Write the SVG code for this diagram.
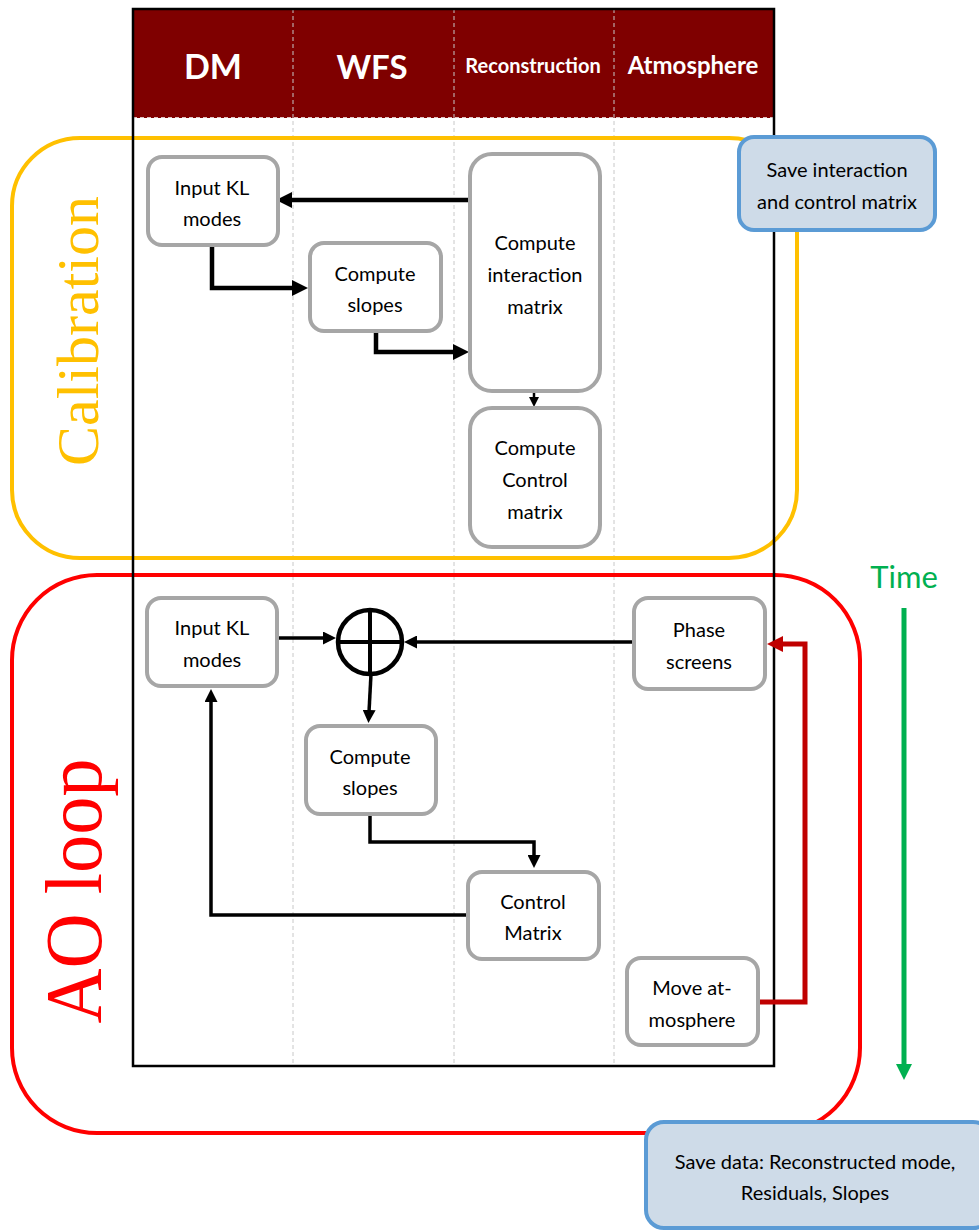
<svg xmlns="http://www.w3.org/2000/svg" width="979" height="1231" viewBox="0 0 979 1231">
<style>
.hdr{font-family:Lato,"Liberation Sans",sans-serif;font-weight:bold;fill:#ffffff;text-anchor:middle}
.div{stroke:#c8c8c8;stroke-width:1;stroke-dasharray:4 3;fill:none}
.node rect{fill:#ffffff;stroke:#a6a6a6;stroke-width:4}
.save rect{fill:#cedbe8;stroke:#5b9bd5;stroke-width:4}
.lbl{font-family:Lato,"Liberation Sans",sans-serif;font-size:20px;fill:#000000;text-anchor:middle}
.conn{fill:none;stroke:#000000}
.big{font-family:"Liberation Serif","DejaVu Serif",serif;text-anchor:middle}
</style>
<defs>
<marker id="arr" viewBox="0 0 16 16" markerWidth="16" markerHeight="16" markerUnits="userSpaceOnUse" refX="2" refY="8" orient="auto"><path d="M0,0 L16,8 L0,16 z" fill="#000"/></marker>
<marker id="arrm" viewBox="0 0 13 13" markerWidth="13" markerHeight="13" markerUnits="userSpaceOnUse" refX="2" refY="6.5" orient="auto"><path d="M0,0 L13,6.5 L0,13 z" fill="#000"/></marker>
<marker id="arrs" viewBox="0 0 10 10" markerWidth="10" markerHeight="10" markerUnits="userSpaceOnUse" refX="2" refY="5" orient="auto"><path d="M0,0 L10,5 L0,10 z" fill="#000"/></marker>
<marker id="arrr" viewBox="0 0 16 16" markerWidth="16" markerHeight="16" markerUnits="userSpaceOnUse" refX="2" refY="8" orient="auto"><path d="M0,0 L16,8 L0,16 z" fill="#c00000"/></marker>
<marker id="arrg" viewBox="0 0 16 16" markerWidth="16" markerHeight="16" markerUnits="userSpaceOnUse" refX="2" refY="8" orient="auto"><path d="M0,0 L16,8 L0,16 z" fill="#00b050"/></marker>
</defs>
<rect width="979" height="1231" fill="#ffffff"/>
<g id="swimlanes">
<rect x="133" y="9" width="641" height="109" fill="#7f0000"/>
<line class="div" x1="293" y1="9" x2="293" y2="1066"/>
<line class="div" x1="454" y1="9" x2="454" y2="1066"/>
<line class="div" x1="614" y1="9" x2="614" y2="1066"/>
<line x1="133" y1="118" x2="774" y2="118" stroke="#ffffff" stroke-width="1.5" stroke-dasharray="4 3"/>
<text class="hdr" x="213" y="79" font-size="34">DM</text>
<text class="hdr" x="372" y="79" font-size="33">WFS</text>
<text class="hdr" x="533" y="73" font-size="20">Reconstruction</text>
<text class="hdr" x="693" y="74" font-size="24">Atmosphere</text>
</g>
<g id="calibration-group">
<rect x="12" y="138" width="785" height="420" rx="68" ry="68" fill="none" stroke="#ffc000" stroke-width="4"/>
<text class="big" transform="translate(98,331) rotate(-90)" font-size="60" fill="#ffc000">Calibration</text>
</g>
<g id="aoloop-group">
<rect x="12" y="575" width="848" height="558" rx="85" ry="85" fill="none" stroke="#ff0000" stroke-width="4"/>
<text class="big" transform="translate(101,891) rotate(-90)" font-size="80" fill="#ff0000" textLength="265" lengthAdjust="spacingAndGlyphs">AO loop</text>
</g>
<rect id="frame" x="133" y="9" width="641" height="1057" fill="none" stroke="#000000" stroke-width="2.5"/>
<g id="time">
<text x="904" y="588" font-family="Lato,'Liberation Sans',sans-serif" font-size="31" fill="#00b050" text-anchor="middle">Time</text>
<line x1="904" y1="608" x2="904" y2="1066" stroke="#00b050" stroke-width="5" marker-end="url(#arrg)"/>
</g>
<g id="connectors">
<path class="conn" stroke-width="4.5" d="M469,200 H290" marker-end="url(#arr)"/>
<path class="conn" stroke-width="4.5" d="M212,245 V288 H294" marker-end="url(#arr)"/>
<path class="conn" stroke-width="4.5" d="M376,332 V352 H455" marker-end="url(#arr)"/>
<path class="conn" stroke-width="2.5" d="M534,391 V399" marker-end="url(#arrs)"/>
<path class="conn" stroke-width="3.5" d="M277,638 H325" marker-end="url(#arrm)"/>
<path class="conn" stroke-width="3.5" d="M634,642 H415" marker-end="url(#arrm)"/>
<path class="conn" stroke-width="3.5" d="M371,674 L369,712" marker-end="url(#arrm)"/>
<path class="conn" stroke-width="3.5" d="M370,814 V842 H534 V857" marker-end="url(#arrm)"/>
<path class="conn" stroke-width="3.5" d="M468,915 H211 V700" marker-end="url(#arrm)"/>
<path fill="none" stroke="#c00000" stroke-width="5" d="M758,1002 H805 V644 H781" marker-end="url(#arrr)"/>
</g>
<g id="sum">
<circle cx="370" cy="642" r="32" fill="#ffffff" stroke="#000000" stroke-width="4.5"/>
<line x1="370" y1="610" x2="370" y2="674" stroke="#000" stroke-width="4"/>
<line x1="338" y1="642" x2="402" y2="642" stroke="#000" stroke-width="4"/>
</g>
<g id="cal-input-kl" class="node"><rect x="148" y="157" width="130" height="88" rx="14"/><text class="lbl" x="212" y="195">Input KL</text><text class="lbl" x="212" y="226">modes</text></g>
<g id="cal-compute-slopes" class="node"><rect x="310" y="243" width="131" height="88" rx="14"/><text class="lbl" x="375" y="281">Compute</text><text class="lbl" x="375" y="312">slopes</text></g>
<g id="cal-interaction" class="node"><rect x="470" y="154" width="130" height="237" rx="22"/><text class="lbl" x="535" y="250">Compute</text><text class="lbl" x="535" y="282">interaction</text><text class="lbl" x="535" y="314">matrix</text></g>
<g id="cal-control" class="node"><rect x="470" y="408" width="130" height="139" rx="22"/><text class="lbl" x="535" y="455">Compute</text><text class="lbl" x="535" y="487">Control</text><text class="lbl" x="535" y="519">matrix</text></g>
<g id="save-matrix" class="save"><rect x="739" y="137" width="196" height="93" rx="15"/><text class="lbl" x="837" y="177" fill="#1a1a1a">Save interaction</text><text class="lbl" x="837" y="209" fill="#1a1a1a">and control matrix</text></g>
<g id="ao-input-kl" class="node"><rect x="147" y="598" width="130" height="88" rx="14"/><text class="lbl" x="212" y="635">Input KL</text><text class="lbl" x="212" y="667">modes</text></g>
<g id="ao-compute-slopes" class="node"><rect x="306" y="726" width="130" height="88" rx="14"/><text class="lbl" x="370" y="764">Compute</text><text class="lbl" x="370" y="795">slopes</text></g>
<g id="ao-control-matrix" class="node"><rect x="468" y="872" width="131" height="87" rx="14"/><text class="lbl" x="533" y="909">Control</text><text class="lbl" x="533" y="940">Matrix</text></g>
<g id="phase-screens" class="node"><rect x="634" y="598" width="131" height="91" rx="14"/><text class="lbl" x="699" y="637">Phase</text><text class="lbl" x="699" y="669">screens</text></g>
<g id="move-atmosphere" class="node"><rect x="627" y="958" width="131" height="87" rx="14"/><text class="lbl" x="692" y="995">Move at-</text><text class="lbl" x="692" y="1027">mosphere</text></g>
<g id="save-data" class="save"><rect x="646" y="1122" width="345" height="106" rx="18"/><text class="lbl" x="815" y="1169" fill="#1a1a1a" font-size="19">Save data: Reconstructed mode,</text><text class="lbl" x="815" y="1200" fill="#1a1a1a" font-size="19">Residuals, Slopes</text></g>
</svg>
